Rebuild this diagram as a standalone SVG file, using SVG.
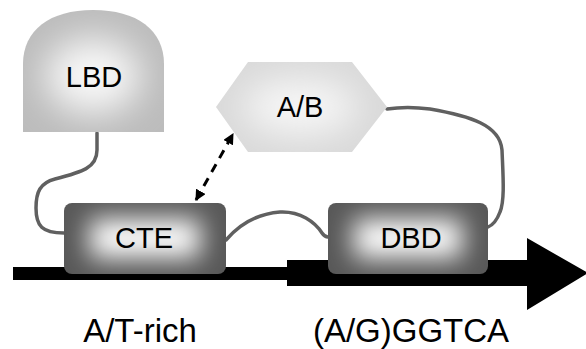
<svg xmlns="http://www.w3.org/2000/svg" width="586" height="349" viewBox="0 0 586 349">
  <style>
    .lbl { font-family: "Liberation Sans", Arial, sans-serif; font-size: 29px; fill: #000; text-anchor: middle; }
    .site { font-family: "Liberation Sans", Arial, sans-serif; font-size: 33px; fill: #000; text-anchor: middle; }
    .link { fill: none; stroke: #606060; stroke-width: 3.5; stroke-linecap: round; }
    .dash { fill: none; stroke: #000; stroke-width: 3; stroke-dasharray: 9 7; }
  </style>
  <defs>
    <filter id="glow" x="-50%" y="-50%" width="200%" height="200%">
      <feGaussianBlur stdDeviation="13"/>
    </filter>
    <filter id="glowSoft" x="-50%" y="-50%" width="200%" height="200%">
      <feGaussianBlur stdDeviation="18"/>
    </filter>
    <marker id="head" viewBox="0 0 10 10" refX="9" refY="5" markerWidth="11" markerHeight="11" markerUnits="userSpaceOnUse" orient="auto-start-reverse">
      <path d="M0,0 L10,5 L0,10 Z" fill="#000"/>
    </marker>
    <clipPath id="clipLBD">
      <path d="M23,132 V64 C23,30 50,10 93,10 C137,10 164,30 164,64 V132 Z"/>
    </clipPath>
    <clipPath id="clipAB">
      <polygon points="216,107 248,62 352,62 387,107 352,152 248,152"/>
    </clipPath>
    <clipPath id="clipCTE">
      <rect x="64" y="203" width="162" height="71" rx="8"/>
    </clipPath>
    <clipPath id="clipDBD">
      <rect x="328" y="203" width="160" height="71" rx="8"/>
    </clipPath>
  </defs>

  <!-- DNA strand with direction arrow -->
  <polygon id="dna" points="13,267 287,267 287,260 527,260 527,238 588,273 527,310 527,286 287,286 287,280 13,280" fill="#000"/>

  <!-- connecting tethers -->
  <g id="connectors">
    <path class="link" d="M97,133 V150 C97,168 82,172 55,179 C40,183 36,192 36,208 C36,226 42,233 64,233"/>
    <path class="link" d="M226,240 C238,226 255,214 280,212 C300,211 315,222 322,233 C324,236 326,237 328,237"/>
    <path class="link" d="M387,109 C400,107 415,107 430,109 C470,116 500,125 502,150 C503,175 505,200 500,212 C497,220 493,225 488,227"/>
    <path class="dash" d="M196,200 L233,134" marker-start="url(#head)" marker-end="url(#head)"/>
  </g>

  <!-- ligand binding domain -->
  <g id="lbd">
    <path d="M23,132 V64 C23,30 50,10 93,10 C137,10 164,30 164,64 V132 Z" fill="#bcbcbc"/>
    <g clip-path="url(#clipLBD)">
      <ellipse cx="93" cy="76" rx="48" ry="38" fill="#f8f8f8" filter="url(#glowSoft)"/>
    </g>
    <text class="lbl" x="94" y="87">LBD</text>
  </g>

  <!-- A/B domain -->
  <g id="ab">
    <polygon points="216,107 248,62 352,62 387,107 352,152 248,152" fill="#d9d9d9"/>
    <g clip-path="url(#clipAB)">
      <ellipse cx="300" cy="107" rx="58" ry="28" fill="#f7f7f7" filter="url(#glowSoft)"/>
    </g>
    <text class="lbl" x="300" y="117">A/B</text>
  </g>

  <!-- C-terminal extension -->
  <g id="cte">
    <rect x="64" y="203" width="162" height="71" rx="8" fill="#585858"/>
    <g clip-path="url(#clipCTE)">
      <rect x="90" y="219" width="110" height="39" fill="#ffffff" filter="url(#glow)"/>
    </g>
    <text class="lbl" x="144" y="248">CTE</text>
  </g>

  <!-- DNA binding domain -->
  <g id="dbd">
    <rect x="328" y="203" width="160" height="71" rx="8" fill="#585858"/>
    <g clip-path="url(#clipDBD)">
      <rect x="354" y="219" width="108" height="39" fill="#ffffff" filter="url(#glow)"/>
    </g>
    <text class="lbl" x="411" y="248">DBD</text>
  </g>

  <!-- binding-site sequences -->
  <text class="site" x="140" y="342">A/T-rich</text>
  <text class="site" x="411" y="342">(A/G)GGTCA</text>
</svg>
